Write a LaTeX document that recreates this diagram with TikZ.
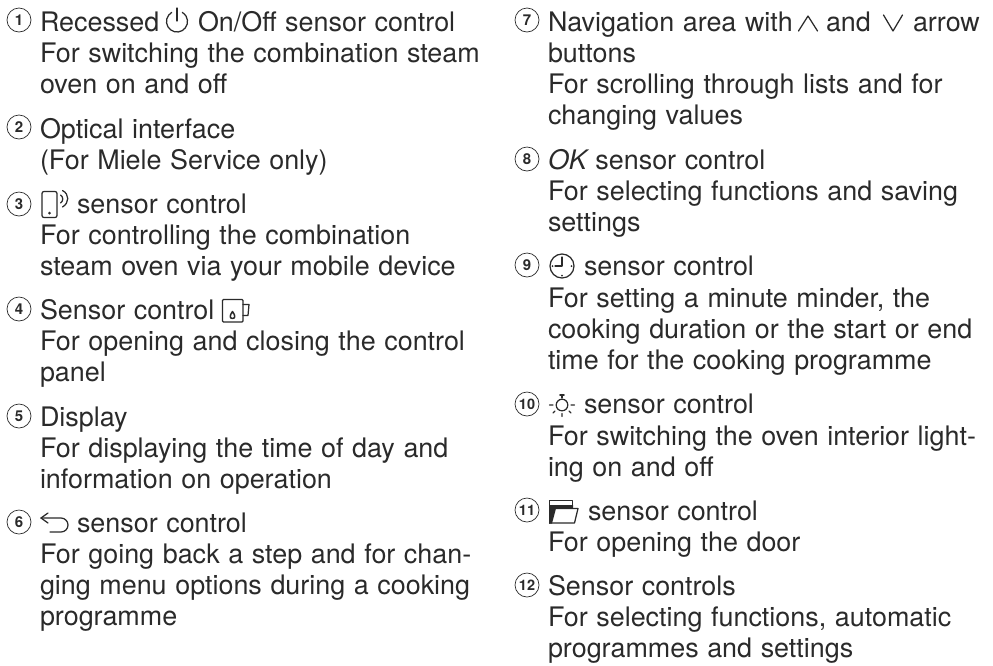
\documentclass[tikz,border=0pt]{standalone}
\usepackage{fontspec}
\setmainfont[WordSpace=1.15]{TeX Gyre Heros}
\definecolor{ink}{HTML}{2A2A2A}
\tikzset{x=1pt,y=-1pt,
  txt/.style={anchor=base west,inner sep=0pt,outer sep=0pt,text=ink,font=\fontsize{26.9}{30}\selectfont},
  num/.style={circle,draw=ink,line width=0.7pt,minimum size=24pt,inner sep=0pt,text=ink,font=\fontsize{15}{15}\selectfont\bfseries},
  numb/.style={num,font=\fontsize{14.5}{14.5}\selectfont\bfseries},
  ic/.style={draw=ink,line width=1.25pt,fill=none,line cap=round,line join=round}}
\begin{document}
\begin{tikzpicture}
\useasboundingbox (0,0) rectangle (993,665);
% left column
\node[num] (n1) at (19,20) {1};
\node[txt] (a1) at (40,31) {Recessed};
\node[txt] (a1b) at (198,31) {On/Off sensor control};
\node[txt] (a2) at (40,62) {For switching the combination steam};
\node[txt] (a3) at (40,93) {oven on and off};
\node[num] (n2) at (19,127) {2};
\node[txt] (b1) at (40,138) {Optical interface};
\node[txt] (b2) at (40,169) {(For Miele Service only)};
\node[num] (n3) at (19,204) {3};
\node[txt] (c1) at (77,213) {sensor control};
\node[txt] (c2) at (40,244) {For controlling the combination};
\node[txt] (c3) at (40,275) {steam oven via your mobile device};
\node[num] (n4) at (19,309) {4};
\node[txt] (d1) at (40,319) {Sensor control};
\node[txt] (d2) at (40,350.5) {For opening and closing the control};
\node[txt] (d3) at (40,381.5) {panel};
\node[num] (n5) at (19,416) {5};
\node[txt] (e1) at (40,426) {Display};
\node[txt] (e2) at (40,457) {For displaying the time of day and};
\node[txt] (e3) at (40,488) {information on operation};
\node[num] (n6) at (19,522) {6};
\node[txt] (f1) at (77,532) {sensor control};
\node[txt] (f2) at (40,563) {For going back a step and for chan-};
\node[txt] (f3) at (40,594) {ging menu options during a cooking};
\node[txt] (f4) at (40,625) {programme};
% right column
\node[num] (n7) at (527,20) {7};
\node[txt] (g1) at (548,31) {Navigation area with};
\node[txt] (g1b) at (826,31) {and};
\node[txt] (g1c) at (913,31) {arrow};
\node[txt] (g2) at (548,62) {buttons};
\node[txt] (g3) at (548,93) {For scrolling through lists and for};
\node[txt] (g4) at (548,124) {changing values};
\node[num] (n8) at (527,159) {8};
\node[txt] (h1) at (548,169) {\itshape OK\normalfont\ sensor control};
\node[txt] (h2) at (548,200) {For selecting functions and saving};
\node[txt] (h3) at (548,231) {settings};
\node[num] (n9) at (527,265) {9};
\node[txt] (i1) at (584,275) {sensor control};
\node[txt] (i2) at (548,307) {For setting a minute minder, the};
\node[txt] (i3) at (548,338) {cooking duration or the start or end};
\node[txt] (i4) at (548,369) {time for the cooking programme};
\node[numb] (n10) at (527,404) {10};
\node[txt] (j1) at (584,413.5) {sensor control};
\node[txt] (j2) at (548,445) {For switching the oven interior light-};
\node[txt] (j3) at (548,476) {ing on and off};
\node[numb] (n11) at (527,510) {11};
\node[txt] (k1) at (588,520) {sensor control};
\node[txt] (k2) at (548,551) {For opening the door};
\node[numb] (n12) at (527,585) {12};
\node[txt] (l1) at (548,595) {Sensor controls};
\node[txt] (l2) at (548,626) {For selecting functions, automatic};
\node[txt] (l3) at (548,657) {programmes and settings};
% power icon
\draw[ic] (171.75,12.4) arc[start angle=120,end angle=420,radius=10.5pt];
\draw[ic] (177,8) -- (177,21);
% phone icon
\draw[ic,rounded corners=2pt] (42,191.5) rectangle (57,217.5);
\fill[ink] (49.5,213) circle (1.5);
\draw[ic] (60.5,195) .. controls (63.5,197) and (63.5,201) .. (60.5,203);
\draw[ic] (62.5,190.5) .. controls (69.5,194) and (69.5,203) .. (62.5,207);
% cup icon
\draw[ic,rounded corners=1pt] (222.5,299.5) rectangle (243,322);
\draw[ic] (243,304.5) -- (249,304.5) -- (248,315.5) -- (243,315.5);
\draw[ic,line width=1.5pt] (232.5,311.5) .. controls (229.5,315.5) and (229.5,318.5) .. (232.5,318.5) .. controls (235.5,318.5) and (235.5,315.5) .. (232.5,311.5);
% back arrow
\draw[ic] (48,513) -- (41,518) -- (48,523);
\draw[ic] (41,518) -- (61,518) arc[start angle=90,end angle=-90,radius=7pt] -- (50,532);
% chevrons
\draw[ic] (798.5,31) -- (808,16) -- (817.5,31);
\draw[ic] (883.5,15) -- (893,31) -- (902.5,15);
% clock
\draw[ic] (562,266) circle (12);
\draw[ic] (562,257) -- (562,266) -- (555,266);
\fill[ink] (571.5,266) circle (1) (562,275.5) circle (1) (552.5,266) circle (1);
% sun
\draw[ic] (562,405) circle (5.8);
\draw[ic] (562,394.5) -- (562,398);
\draw[ic,line width=1.6pt] (560,395) -- (564,395);
\draw[ic] (549.5,405) -- (553,405) (571,405) -- (574.5,405) (562,413.5) -- (562,416.5)
  (553,413) -- (555,411) (569,411) -- (571,413);
% door
\draw[ic] (549.5,523) -- (549.5,500.5) -- (572.5,500.5) -- (572.5,507);
\fill[ink] (549,505) -- (573,505) -- (573,508.5) -- (556,508.5) -- (552,523.5) -- (549,523.5) -- cycle;
\draw[ic] (556,508.5) -- (578,508.5) -- (574.5,523) -- (549.5,523);
\end{tikzpicture}
\end{document}
